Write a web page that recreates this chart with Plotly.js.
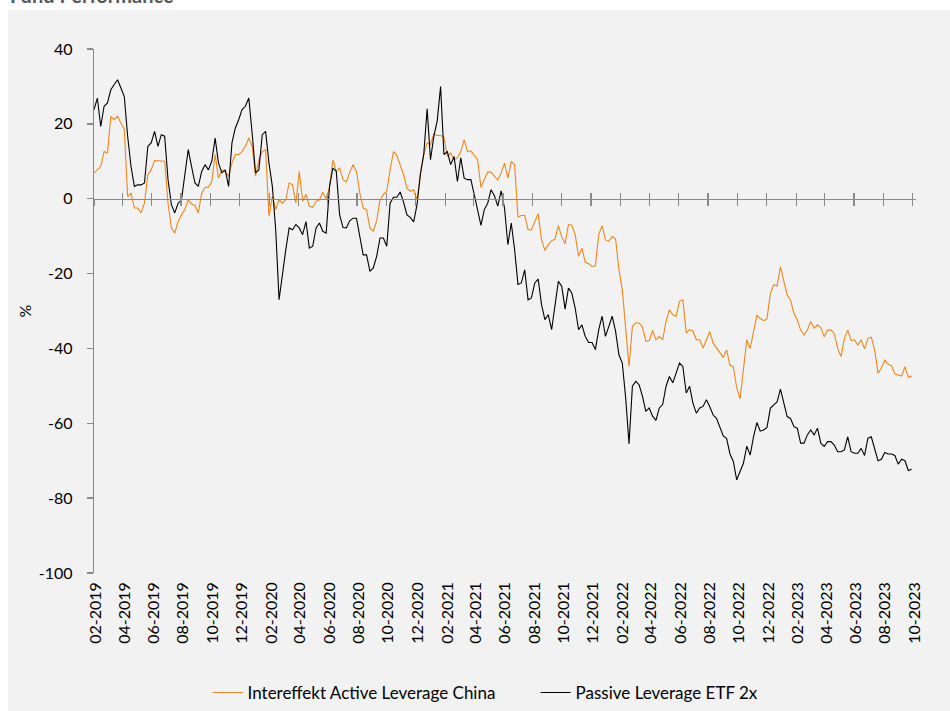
<!DOCTYPE html>
<html>
<head>
<meta charset="utf-8">
<script src="https://cdn.plot.ly/plotly-3.0.1.min.js"></script>
<style>
  html, body { margin: 0; padding: 0; background: #ffffff; }
  #chart { width: 950px; height: 711px; }
</style>
</head>
<body>
<div id="chart"></div>
<script>
// ---- data (weekly samples, starting 2019-02-01) ----
const startDate = '2019-02-01';
const stepDays = 7;
const seriesNames = ['Intereffekt Active Leverage China', 'Passive Leverage ETF 2x'];

const activeChina = [
  6.9, 7.7, 8.6, 12.6, 12.2, 22.0, 21.1, 22.0, 20.3, 18.5,
  0.6, 1.5, -2.5, -2.5, -3.8, -1.2, 6.4, 7.7, 10.2, 10.2,
  10.0, 10.0, -1.2, -7.8, -9.2, -6.1, -4.3, -2.9, -0.3, -1.4,
  -1.8, -3.8, 1.5, 3.0, 3.1, 4.6, 11.8, 5.5, 7.7, 7.3,
  6.0, 9.5, 11.8, 11.8, 12.6, 14.0, 16.2, 14.0, 6.0, 10.4,
  12.6, 13.1, -4.7, 0.6, -2.9, -0.3, -1.2, -0.3, 4.2, 3.7,
  -1.2, 7.3, -0.7, 1.2, -2.0, -2.3, -0.7, -0.3, 1.7, 0.0,
  3.1, 10.4, 7.3, 8.2, 5.1, 4.5, 7.1, 9.1, 7.3, 1.5,
  -2.5, -2.9, -7.8, -8.7, -6.0, -0.3, 1.1, 2.0, 7.7, 12.6,
  11.6, 8.9, 6.4, 2.8, 2.0, 2.4, -0.3, 6.4, 11.8, 14.9,
  14.5, 17.3, 16.9, 16.9, 16.4, 11.3, 12.2, 10.4, 10.9, 12.6,
  15.8, 12.6, 12.8, 11.6, 10.4, 3.0, 5.2, 7.1, 7.1, 5.9,
  5.0, 6.9, 9.5, 5.5, 10.0, 9.1, -4.9, -4.5, -4.5, -8.3,
  -8.3, -6.1, -4.0, -11.0, -13.8, -12.3, -11.2, -10.8, -7.2, -10.2,
  -12.0, -6.9, -7.1, -9.6, -15.4, -13.2, -17.0, -17.4, -18.1, -17.9,
  -9.6, -7.2, -11.0, -11.4, -10.1, -10.7, -19.0, -24.3, -35.4, -44.9,
  -34.1, -33.2, -33.2, -34.3, -38.1, -37.9, -35.2, -37.7, -36.8, -37.7,
  -32.8, -29.7, -31.0, -31.4, -27.4, -27.0, -35.9, -35.0, -35.4, -37.7,
  -37.7, -39.9, -37.7, -35.5, -38.6, -39.8, -41.0, -42.4, -40.4, -44.5,
  -44.9, -50.5, -53.5, -46.2, -37.7, -40.0, -35.5, -31.1, -32.0, -32.6,
  -32.1, -25.3, -23.0, -23.3, -18.2, -21.7, -25.7, -27.1, -30.6, -32.4,
  -35.1, -36.4, -35.1, -32.8, -34.6, -33.7, -34.4, -36.9, -35.1, -35.1,
  -36.0, -40.0, -42.2, -37.3, -35.1, -37.9, -37.7, -39.1, -37.7, -40.1,
  -37.3, -37.0, -40.4, -46.6, -45.3, -43.1, -44.2, -44.6, -46.8, -47.1,
  -47.4, -44.9, -47.7, -47.4
];

const passiveEtf = [
  23.8, 26.9, 19.3, 24.7, 25.6, 29.1, 30.5, 31.8, 29.6, 27.3,
  16.7, 8.6, 3.3, 3.7, 3.7, 4.2, 14.0, 14.9, 18.0, 14.0,
  17.1, 16.7, 5.1, -1.6, -3.8, -1.2, -0.3, 6.9, 13.1, 8.6,
  4.2, 3.3, 7.3, 9.1, 7.7, 10.0, 16.2, 9.5, 6.9, 7.7,
  3.3, 14.9, 18.9, 21.1, 23.8, 24.7, 26.9, 17.5, 6.9, 7.7,
  17.1, 18.0, 9.5, 3.3, -8.3, -27.0, -19.9, -13.6, -7.8, -8.3,
  -6.9, -7.8, -9.6, -6.1, -13.2, -12.7, -7.8, -6.5, -8.7, -9.2,
  3.3, 8.2, 7.3, -4.3, -7.7, -7.8, -5.9, -5.2, -5.2, -10.5,
  -15.0, -15.0, -19.4, -18.5, -15.4, -10.5, -10.5, -12.7, -1.2, 0.4,
  0.4, 1.8, -0.9, -4.3, -5.0, -6.2, -1.6, 6.6, 11.9, 24.0,
  10.4, 16.7, 20.8, 30.0, 11.8, 12.6, 9.1, 11.3, 4.6, 10.9,
  5.5, 5.1, 5.1, 1.1, -2.9, -7.1, -2.9, -1.2, 2.4, 0.8,
  -2.0, 2.1, -2.5, -12.3, -6.5, -13.6, -22.9, -22.5, -19.0, -27.0,
  -26.5, -22.5, -21.5, -28.3, -32.3, -31.0, -35.0, -27.9, -22.1, -23.4,
  -29.5, -23.9, -25.2, -29.2, -35.0, -33.7, -36.8, -38.4, -38.4, -40.3,
  -35.0, -31.4, -36.8, -34.1, -31.4, -35.4, -41.7, -43.9, -53.2, -65.5,
  -50.1, -48.8, -49.7, -52.8, -56.8, -55.9, -58.1, -59.2, -55.9, -55.0,
  -50.1, -47.5, -49.2, -46.6, -43.9, -44.8, -51.9, -50.1, -54.6, -57.3,
  -55.9, -55.5, -53.7, -55.6, -57.8, -58.7, -61.3, -63.4, -64.0, -68.2,
  -70.2, -75.1, -72.9, -70.7, -66.1, -68.5, -63.6, -59.8, -62.1, -61.8,
  -61.1, -56.0, -55.1, -54.3, -50.9, -54.7, -58.2, -58.7, -60.9, -61.3,
  -65.3, -65.3, -63.1, -61.8, -63.1, -61.3, -65.3, -66.2, -64.9, -64.9,
  -65.8, -67.6, -67.6, -67.1, -63.6, -67.6, -68.0, -68.0, -66.7, -68.6,
  -64.0, -63.6, -66.7, -70.0, -69.6, -67.8, -68.2, -68.2, -68.6, -70.9,
  -69.6, -70.0, -72.6, -72.3
];

const xRange = ['2019-02-01', '2023-10-08'];
const yRange = [-100, 40];
const yTickVals = [40, 20, 0, -20, -40, -60, -80, -100];
const yTickText = ['40', '20', '0', '-20', '-40', '-60', '-80', '-100'];

// ---- build dates for the weekly samples ----
function buildDates(start, step, n) {
  const out = [];
  const t0 = Date.parse(start + 'T00:00:00Z');
  for (let i = 0; i < n; i++) {
    const d = new Date(t0 + i * step * 86400000);
    out.push(d.toISOString().slice(0, 10));
  }
  return out;
}
const dates = buildDates(startDate, stepDays, activeChina.length);

const FONT = 'Lato, "Source Sans Pro", "Noto Sans", sans-serif';
const AXIS_GREY = '#898989';

const traces = [
  {
    x: dates, y: activeChina, name: seriesNames[0],
    type: 'scatter', mode: 'lines', xaxis: 'x', yaxis: 'y',
    line: { color: '#f0871a', width: 1.1 }
  },
  {
    x: dates, y: passiveEtf, name: seriesNames[1],
    type: 'scatter', mode: 'lines', xaxis: 'x2', yaxis: 'y',
    line: { color: '#000000', width: 1.1 }
  },
  {
    x: [dates[0]], y: [null], xaxis: 'x3', yaxis: 'y',
    type: 'scatter', mode: 'lines', showlegend: false, hoverinfo: 'skip'
  }
];

const zeroPos = (0 - yRange[0]) / (yRange[1] - yRange[0]);

const baseX = {
  type: 'date', range: xRange, tick0: '2019-02-01', dtick: 'M2',
  showgrid: false, zeroline: false, fixedrange: true, automargin: false
};

const layout = {
  width: 950, height: 711,
  margin: { l: 94, r: 34, t: 49, b: 138, autoexpand: false },
  paper_bgcolor: '#ffffff',
  plot_bgcolor: '#f2f2f2',
  font: { family: FONT, size: 16, color: '#000000' },
  showlegend: true,
  shapes: [
    { type: 'rect', xref: 'paper', yref: 'paper', layer: 'below',
      x0: -0.105, x1: 1.1, y0: -0.3, y1: 1.0744,
      fillcolor: '#f2f2f2', line: { width: 0 } }
  ],
  annotations: [
    { text: '<b>Fund Performance</b>', xref: 'paper', yref: 'paper',
      x: -0.105, y: 1.0763, xanchor: 'left', yanchor: 'bottom',
      showarrow: false, font: { family: FONT, size: 20, color: '#595959' } }
  ],
  xaxis: Object.assign({}, baseX, {
    showline: false, ticks: '', tickformat: '%m-%Y', tickangle: -90,
    ticklabelstandoff: 5, ticklabelshift: 2,
    tickfont: { family: FONT, size: 16, color: '#000000' }
  }),
  xaxis2: Object.assign({}, baseX, {
    overlaying: 'x', anchor: 'free', position: zeroPos,
    showline: true, linecolor: AXIS_GREY, linewidth: 1.3,
    ticks: 'outside', ticklen: 6, tickwidth: 1.3, tickcolor: AXIS_GREY,
    showticklabels: false
  }),
  xaxis3: Object.assign({}, baseX, {
    overlaying: 'x', anchor: 'free', position: zeroPos,
    showline: false,
    ticks: 'inside', ticklen: 6, tickwidth: 1.3, tickcolor: AXIS_GREY,
    showticklabels: false
  }),
  yaxis: {
    range: yRange, tickmode: 'array', tickvals: yTickVals, ticktext: yTickText,
    showgrid: false, zeroline: false, fixedrange: true, automargin: false,
    showline: true, linecolor: AXIS_GREY, linewidth: 1.3,
    ticks: 'outside', ticklen: 6, tickwidth: 1.3, tickcolor: AXIS_GREY,
    ticklabelstandoff: 11,
    tickfont: { family: FONT, size: 16, color: '#000000' },
    title: { text: '%', standoff: 3, font: { family: FONT, size: 16, color: '#000000' } }
  },
  legend: {
    orientation: 'h', xref: 'container', yref: 'container',
    x: 0.2185, xanchor: 'left', y: 0.0253, yanchor: 'middle',
    entrywidth: 283,
    bgcolor: 'rgba(0,0,0,0)', font: { family: FONT, size: 17, color: '#000000' },
    traceorder: 'normal'
  }
};

Plotly.newPlot('chart', traces, layout, { displayModeBar: false, staticPlot: true });
</script>
</body>
</html>
